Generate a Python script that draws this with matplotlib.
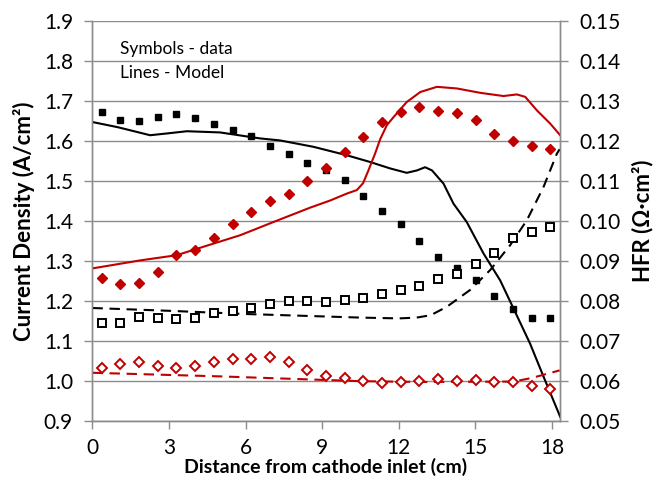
import numpy as np
import matplotlib.pyplot as plt

plt.rcParams['font.family'] = ['Lato', 'DejaVu Sans']

RED = '#C00000'
GRID = '#8C8C8C'

# segment centres along the channel (cm)
x_data = [0.37, 1.10, 1.83, 2.56, 3.29, 4.03, 4.76, 5.49, 6.22, 6.95, 7.69, 8.42, 9.15,
          9.88, 10.61, 11.35, 12.08, 12.81, 13.54, 14.27, 15.01, 15.74, 16.47, 17.20, 17.93]

# current density data (A/cm2)
cd_black = [1.673, 1.654, 1.650, 1.661, 1.667, 1.659, 1.643, 1.627, 1.613, 1.589, 1.567, 1.546, 1.527,
            1.503, 1.462, 1.425, 1.394, 1.350, 1.311, 1.282, 1.252, 1.214, 1.181, 1.158, 1.158]
cd_red = [1.258, 1.243, 1.245, 1.272, 1.315, 1.329, 1.358, 1.392, 1.424, 1.450, 1.467, 1.500, 1.532,
          1.572, 1.611, 1.647, 1.673, 1.685, 1.676, 1.671, 1.653, 1.618, 1.600, 1.588, 1.580]

# HFR data (Ohm cm2)
hfr_black = [0.0746, 0.0746, 0.0760, 0.0757, 0.0756, 0.0758, 0.0770, 0.0776, 0.0783, 0.0794, 0.0801, 0.0801, 0.0798,
             0.0803, 0.0809, 0.0819, 0.0828, 0.0838, 0.0856, 0.0869, 0.0893, 0.0921, 0.0958, 0.0973, 0.0985]
hfr_red = [0.0633, 0.0643, 0.0647, 0.0639, 0.0632, 0.0638, 0.0648, 0.0656, 0.0656, 0.0661, 0.0647, 0.0628, 0.0613,
           0.0608, 0.0600, 0.0595, 0.0597, 0.0600, 0.0605, 0.0600, 0.0603, 0.0598, 0.0598, 0.0589, 0.0580]

# model: current density
xm_cd_black = [0.0, 1.0, 2.26, 3.0, 3.70, 5.0, 6.57, 7.35, 8.66, 9.96, 10.88, 11.66, 12.31, 12.71, 13.03,
               13.30, 13.75, 14.14, 14.66, 15.32, 15.97, 16.49, 17.14, 17.67, 18.32]
cd_black_model = [1.648, 1.635, 1.615, 1.620, 1.625, 1.622, 1.607, 1.602, 1.586, 1.565, 1.548, 1.532, 1.521,
                  1.527, 1.535, 1.527, 1.494, 1.444, 1.398, 1.319, 1.252, 1.182, 1.094, 1.011, 0.911]

xm_cd_red = [0.0, 1.87, 3.3, 4.74, 5.79, 7.09, 8.53, 9.32, 9.96, 10.36, 10.60, 10.81, 11.07, 11.27, 11.53,
             11.79, 12.31, 12.84, 13.49, 14.27, 15.19, 16.10, 16.62, 16.95, 17.41, 17.93, 18.32]
cd_red_model = [1.282, 1.302, 1.315, 1.344, 1.365, 1.398, 1.434, 1.452, 1.469, 1.478, 1.495, 1.527, 1.569, 1.605, 1.640,
                1.660, 1.698, 1.723, 1.736, 1.732, 1.721, 1.713, 1.717, 1.711, 1.677, 1.644, 1.615]

# model: HFR
xm_hfr_black = [0.0, 3.0, 6.0, 9.0, 10.5, 12.0, 12.7, 13.25, 13.88, 14.79, 15.58, 16.36, 17.02, 17.67, 18.19, 18.3]
hfr_black_model = [0.0783, 0.0776, 0.0768, 0.0762, 0.0759, 0.0757, 0.0759, 0.0765, 0.0786, 0.0828, 0.0878,
                   0.0940, 0.1003, 0.1086, 0.1169, 0.1180]

xm_hfr_red = [0.0, 5.0, 10.5, 13.0, 16.5, 17.2, 18.3]
hfr_red_model = [0.0621, 0.0612, 0.0600, 0.0598, 0.0599, 0.0608, 0.0627]


fig = plt.figure(figsize=(6.6, 4.83), dpi=100)
ax = fig.add_subplot(111)
fig.subplots_adjust(left=0.14, right=0.848, bottom=0.128, top=0.956)
ax2 = ax.twinx()

# grid
ax.set_axisbelow(True)
ax.yaxis.grid(True, color=GRID, linewidth=1.0)

# current density (left axis)
ax.plot(xm_cd_black, cd_black_model, color='black', linewidth=1.5, zorder=3)
ax.plot(xm_cd_red, cd_red_model, color=RED, linewidth=1.5, zorder=3)
ax.plot(x_data, cd_black, 's', color='black', markersize=5, zorder=4)
ax.plot(x_data, cd_red, 'D', color=RED, markersize=5, zorder=4)

# HFR (right axis)
ax2.plot(xm_hfr_black, hfr_black_model, color='black', linewidth=1.5, dashes=(5, 3.2))
ax2.plot(xm_hfr_red, hfr_red_model, color=RED, linewidth=1.5, dashes=(5, 3.2))
ax2.plot(x_data, hfr_black, 's', markerfacecolor='white', markeredgecolor='black',
         markeredgewidth=1.4, markersize=5.5)
ax2.plot(x_data, hfr_red, 'D', markerfacecolor='white', markeredgecolor=RED,
         markeredgewidth=1.4, markersize=5)

ax.set_xlim(0, 18.3)
ax.set_ylim(0.9, 1.9)
ax2.set_ylim(0.05, 0.15)
ax.set_xticks([0, 3, 6, 9, 12, 15, 18])
ax.set_yticks(np.arange(0.9, 1.91, 0.1))
ax2.set_yticks(np.arange(0.05, 0.151, 0.01))
ax.set_yticklabels([f'{v:.1f}' for v in np.arange(0.9, 1.91, 0.1)])
ax2.set_yticklabels([f'{v:.2f}' for v in np.arange(0.05, 0.151, 0.01)])

for a in (ax, ax2):
    a.spines['top'].set_visible(False)
    for s in ('left', 'right', 'bottom'):
        a.spines[s].set_color(GRID)
        a.spines[s].set_linewidth(1.0)
    a.tick_params(axis='both', direction='out', length=6, width=1.0, color=GRID,
                  labelsize=15, pad=6)
ax.tick_params(axis='y', pad=8)
ax2.tick_params(axis='y', pad=8)

ax.set_xlabel('Distance from cathode inlet (cm)', fontsize=14, fontweight='bold', labelpad=0)
ax.set_ylabel('Current Density (A/cm²)', fontsize=16, fontweight='bold', labelpad=6)
ax2.set_ylabel('HFR (Ω·cm²)', fontsize=16, fontweight='bold', labelpad=8)

ax.text(0.06, 0.93, 'Symbols - data', transform=ax.transAxes, fontsize=12.5, va='center')
ax.text(0.06, 0.87, 'Lines - Model', transform=ax.transAxes, fontsize=12.5, va='center')

fig.savefig('out.png', dpi=100)
